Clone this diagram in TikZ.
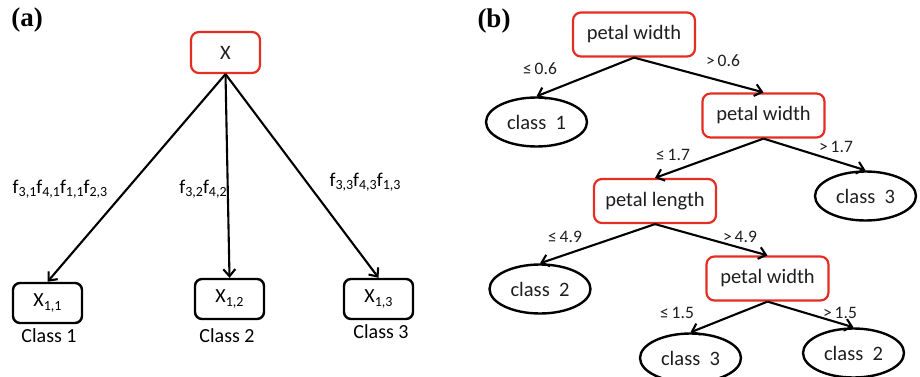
\documentclass[tikz,border=0pt]{standalone}
\usepackage{fontspec}
\setmainfont{Carlito}
\newfontfamily\panelfont{Liberation Serif}
\usetikzlibrary{arrows.meta,shapes.geometric}
\definecolor{boxred}{RGB}{228,45,35}
\definecolor{txtgray}{RGB}{30,30,30}
\newcommand{\mysub}[1]{\raisebox{-0.35ex}{\fontsize{14}{14}\selectfont #1}}
\tikzset{
  redbox/.style={draw=boxred, line width=2.2pt, rounded corners=8pt, minimum width=#1, minimum height=44pt, inner sep=0pt, text=txtgray, font=\fontsize{20.5}{20.5}\selectfont},
  redbox/.default=122pt,
  blkbox/.style={draw=black, line width=2.4pt, rounded corners=7pt, minimum width=69pt, minimum height=40pt, inner sep=0pt, font=\fontsize{20}{20}\selectfont},
  leaf/.style={draw=black, line width=2.4pt, ellipse, minimum width=101pt, minimum height=49pt, inner sep=0pt, text=txtgray, font=\fontsize{20.5}{20.5}\selectfont},
  arr/.style={line width=2.1pt, -{Straight Barb[length=7pt,width=12pt,line width=2.1pt]}},
  elab/.style={font=\fontsize{17.5}{17.5}\selectfont, inner sep=0pt, text=txtgray},
  flab/.style={font=\fontsize{19.5}{19.5}\selectfont, inner sep=0pt},
  cls/.style={font=\fontsize{20}{20}\selectfont, inner sep=0pt},
  panel/.style={font=\panelfont\bfseries\fontsize{27}{27}\selectfont, inner sep=0pt}
}
\begin{document}
\begin{tikzpicture}[x=1pt,y=-1pt]
\useasboundingbox (0,0) rectangle (920,377);
% panel (a)
\node[panel] (pa) at (27,20) {(a)};
\node[redbox=69pt, minimum height=41pt] (X) at (225.5,52.5) {X};
\node[blkbox] (X11) at (47.5,303) {X\mysub{1,1}};
\node[blkbox] (X12) at (229.5,299) {X\mysub{1,2}};
\node[blkbox] (X13) at (378.5,299) {X\mysub{1,3}};
\node[cls] (c1) at (49,336) {Class 1};
\node[cls] (c2) at (227,336) {Class 2};
\node[cls] (c3) at (381,332) {Class 3};
\draw[arr] (X.south) -- (X11.north);
\draw[arr] (X.south) -- (X12.north);
\draw[arr] (X.south) -- (X13.north);
\node[flab] (l1) at (60,189) {f\mysub{3,1}f\mysub{4,1}f\mysub{1,1}f\mysub{2,3}};
\node[flab] (l2) at (203,189) {f\mysub{3,2}f\mysub{4,2}};
\node[flab] (l3) at (365,182) {f\mysub{3,3}f\mysub{4,3}f\mysub{1,3}};
% panel (b)
\node[panel] (pb) at (494,21) {(b)};
\node[redbox] (r) at (634,34.5) {petal width};
\node[leaf] (k1) at (536.5,122) {class\ \ 1};
\node[redbox] (pw2) at (763.5,115.5) {petal width};
\node[leaf] (k3a) at (865.5,196) {class\ \ 3};
\node[redbox] (pl) at (655,201) {petal length};
\node[leaf] (k2a) at (540,289) {class\ \ 2};
\node[redbox] (pw3) at (767.5,278.5) {petal width};
\node[leaf] (k3b) at (690.5,358) {class\ \ 3};
\node[leaf] (k2b) at (853.5,353) {class\ \ 2};
\draw[arr] (r.south) -- (k1.north);
\draw[arr] (r.south) -- (pw2.north);
\draw[arr] (pw2.south) -- (pl.north);
\draw[arr] (pw2.south) -- (k3a.north);
\draw[arr] (pl.south) -- (k2a.north);
\draw[arr] (pl.south) -- (pw3.north);
\draw[arr] (pw3.south) -- (k3b.north);
\draw[arr] (pw3.south) -- (k2b.north);
\node[elab] (e1) at (540,69) {≤\,0.6};
\node[elab] (e2) at (723,61) {>\,0.6};
\node[elab] (e3) at (673,155) {≤\,1.7};
\node[elab] (e4) at (836,147) {>\,1.7};
\node[elab] (e5) at (565,237) {≤\,4.9};
\node[elab] (e6) at (740,237) {>\,4.9};
\node[elab] (e7) at (677,313) {≤\,1.5};
\node[elab] (e8) at (840,313) {>\,1.5};
\end{tikzpicture}
\end{document}
